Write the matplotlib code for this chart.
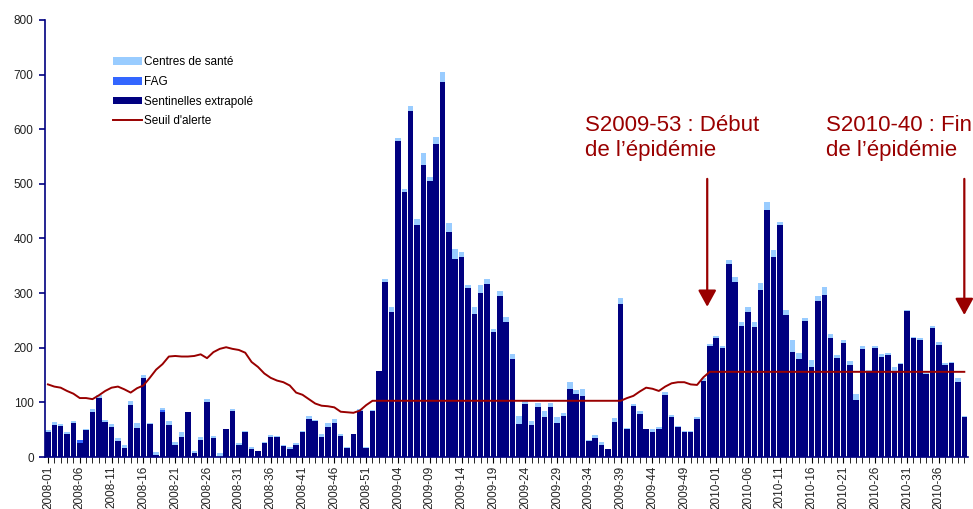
import matplotlib.pyplot as plt
import numpy as np

plt.rcParams['font.family'] = ['Liberation Sans', 'DejaVu Sans']

# weekly counts, 2008-01 .. 2010-40
sentinelles = [
    46, 58, 57, 42, 62, 26, 50, 82, 108, 65,
    55, 29, 16, 96, 53, 145, 60, 4, 83, 59,
    22, 37, 82, 8, 32, 100, 34, 1, 51, 85,
    23, 45, 14, 11, 26, 36, 37, 20, 15, 22,
    45, 70, 66, 37, 55, 63, 39, 16, 43, 84,
    16, 84,
    157, 320, 266, 579, 485, 634, 424, 534, 505, 573,
    687, 411, 363, 366, 310, 261, 300, 317, 228, 294,
    247, 179, 60, 98, 59, 92, 73, 92, 63, 76,
    125, 115, 112, 29, 34, 23, 14, 64, 280, 52,
    94, 78, 51, 46, 52, 114, 74, 55, 46, 45,
    70, 140, 204, 218, 199, 353, 321, 239, 266, 238,
    306, 452, 367, 424, 260, 193, 179, 249, 164, 286,
    297, 217, 181, 209, 169, 104, 197, 157, 199, 184,
    187, 158, 171, 268, 217, 214, 152, 237, 205, 169,
    173, 138, 74]

fag = [0] * 145
fag[5] = 5
fag[18] = 4

centres_sante = [
    4, 6, 3, 3, 4, 0, 2, 6, 6, 3,
    5, 5, 6, 6, 9, 5, 3, 6, 3, 7,
    6, 8, 0, 4, 5, 7, 5, 6, 0, 3,
    2, 3, 5, 1, 1, 4, 1, 3, 3, 3,
    3, 5, 2, 5, 8, 7, 4, 2, 0, 4,
    2, 3,
    0, 6, 9, 4, 6, 8, 11, 23, 7, 12,
    17, 18, 18, 10, 5, 14, 15, 9, 6, 9,
    10, 10, 15, 5, 7, 7, 12, 7, 10, 5,
    12, 8, 12, 2, 7, 4, 1, 7, 11, 2,
    3, 6, 1, 5, 3, 5, 3, 2, 2, 2,
    3, 4, 2, 4, 5, 7, 9, 8, 9, 9,
    13, 14, 12, 6, 10, 21, 11, 6, 14, 9,
    14, 9, 6, 5, 6, 11, 6, 2, 4, 5,
    3, 6, 2, 1, 2, 3, 1, 3, 5, 3,
    1, 7, 2]

seuil = [
    133, 129, 127, 121, 116, 108, 108, 106, 113, 121,
    127, 129, 124, 118, 126, 131, 145, 160, 170, 184,
    185, 184, 184, 185, 188, 181, 192, 198, 201, 198,
    196, 191, 174, 165, 153, 145, 140, 137, 131, 118,
    114, 106, 98, 94, 93, 91, 83, 82, 81, 85,
    95, 103] + [103] * 39 + [
    108, 112, 120, 127, 125, 121, 129, 135, 137, 137,
    133, 132, 146] + [156] * 41

tick_labels = [
    "2008-01", "2008-06", "2008-11", "2008-16", "2008-21", "2008-26",
    "2008-31", "2008-36", "2008-41", "2008-46", "2008-51",
    "2009-04", "2009-09", "2009-14", "2009-19", "2009-24", "2009-29",
    "2009-34", "2009-39", "2009-44", "2009-49",
    "2010-01", "2010-06", "2010-11", "2010-16", "2010-21", "2010-26",
    "2010-31", "2010-36"]

navy = '#000080'
red = '#990000'

x = np.arange(len(sentinelles))
sent = np.array(sentinelles)
fg = np.array(fag)
cs = np.array(centres_sante)

fig = plt.figure(figsize=(9.73, 5.09), dpi=100)
ax = fig.add_axes([0.046, 0.102, 0.949, 0.859])

w = 0.88
b_sent = ax.bar(x, sent, w, color=navy, zorder=2)
b_fag = ax.bar(x, fg, w, bottom=sent, color='#3366FF', zorder=2)
b_cs = ax.bar(x, cs, w, bottom=sent + fg, color='#99CCFF', zorder=2)
l_seuil, = ax.plot(x, seuil, color=red, lw=1.4, zorder=3)

ax.set_xlim(-0.5, 144.6)
ax.set_ylim(0, 800)
ax.set_yticks(range(0, 801, 100))
ax.set_xticks(range(0, 145, 5))
ax.set_xticklabels(tick_labels, rotation=90)
ax.set_xticks(x, minor=True)
ax.tick_params(axis='x', which='both', length=4, color='black', labelsize=8.5,
               labelcolor='#222222', pad=2)
ax.tick_params(axis='y', length=4, color=navy, width=1.2, labelsize=8.5,
               labelcolor='#222222', pad=4)

for s in ['top', 'right']:
    ax.spines[s].set_visible(False)
ax.spines['left'].set_color(navy)
ax.spines['left'].set_linewidth(1.2)
ax.spines['bottom'].set_color(navy)
ax.spines['bottom'].set_linewidth(1.2)

ax.legend([b_cs, b_fag, b_sent, l_seuil],
          ['Centres de santé', 'FAG', 'Sentinelles extrapolé', "Seuil d'alerte"],
          loc='upper left', bbox_to_anchor=(0.067, 0.93), frameon=False,
          fontsize=8.5, handlelength=2.5, handleheight=0.6, labelspacing=0.65,
          handletextpad=0.2, borderpad=0)

ax.text(84.4, 625, "S2009-53 : Début\nde l\u2019épidémie", color=red,
        fontsize=16, va='top', ha='left', linespacing=1.25)
ax.text(122.2, 625, "S2010-40 : Fin\nde l\u2019épidémie", color=red,
        fontsize=16, va='top', ha='left', linespacing=1.25)

arrow = dict(arrowstyle='-|>,head_length=1.0,head_width=0.55',
             mutation_scale=10, lw=1.6, color=red, shrinkA=0, shrinkB=0)
ax.annotate('', xy=(103.6, 275), xytext=(103.6, 509), arrowprops=arrow,
            annotation_clip=False)
ax.annotate('', xy=(144.0, 260), xytext=(144.0, 509), arrowprops=arrow,
            annotation_clip=False)

fig.savefig('out.png', dpi=100)
